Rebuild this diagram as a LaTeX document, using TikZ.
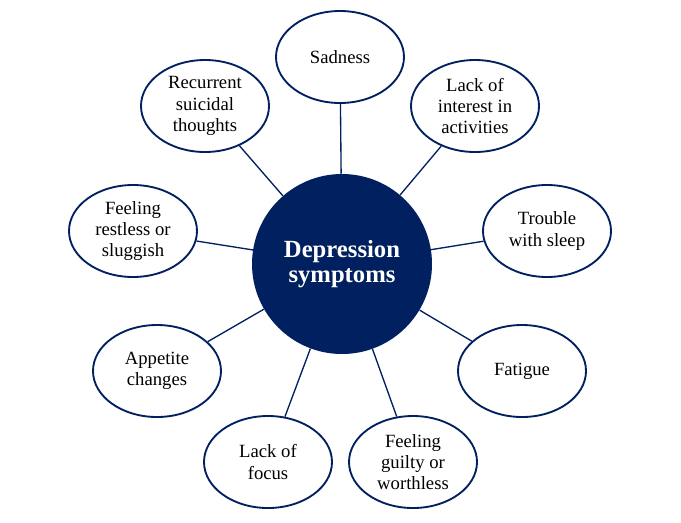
\documentclass[tikz,border=0pt]{standalone}
\usepackage{fontspec}
\setmainfont{Liberation Serif}
\usepackage{tikz}
\usetikzlibrary{shapes.geometric}
\usepackage{xcolor}
\definecolor{navy}{HTML}{002060}

\begin{document}
\begin{tikzpicture}[x=0.75pt,y=-0.75pt,
          symptom/.style={ellipse,draw=navy,line width=1.4pt,fill=white,
            minimum width=96pt,minimum height=69pt,inner sep=1pt,
            align=center,font=\fontsize{14}{16}\selectfont},
          hub/.style={circle,fill=navy,minimum size=135pt,inner sep=0pt,
            align=center,text=white,font=\fontsize{18.5}{18.5}\selectfont\bfseries},
          link/.style={draw=navy,line width=1pt}
        ]
        \useasboundingbox (0,0) rectangle (681,522);
        \node[hub] (core) at (342,264) {Depression\\symptoms};
        \node[symptom] (sad) at (340,57) {Sadness};
        \node[symptom] (interest) at (475,106) {Lack of\\interest in\\activities};
        \node[symptom] (sleep) at (547,231) {Trouble\\with sleep};
        \node[symptom] (fatigue) at (522,371) {Fatigue};
        \node[symptom] (guilty) at (413,462) {Feeling\\guilty or\\worthless};
        \node[symptom] (focus) at (268,462) {Lack of\\focus};
        \node[symptom] (appetite) at (157,371) {Appetite\\changes};
        \node[symptom] (restless) at (133,231) {Feeling\\restless or\\sluggish};
        \node[symptom] (suicidal) at (205,106) {Recurrent\\suicidal\\thoughts};
        % spokes
        \foreach \s in {sad,interest,sleep,fatigue,guilty,focus,appetite,restless,suicidal}
          \draw[link] (core) -- (\s);
      \end{tikzpicture}
\end{document}
